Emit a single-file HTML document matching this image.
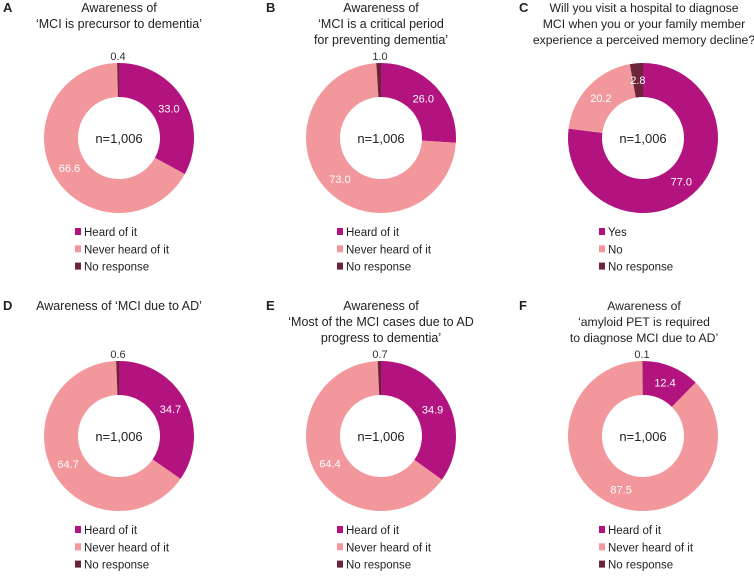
<!DOCTYPE html>
<html><head><meta charset="utf-8">
<style>
body{margin:0;background:#fff;}
svg text{font-family:"Liberation Sans",sans-serif;}
</style></head>
<body>
<svg id="chart" width="754" height="572" xmlns="http://www.w3.org/2000/svg"></svg>
<script>
const panelLetters = ["A","B","C","D","E","F"];
const panelTitles = [
  ["Awareness of","\u2018MCI is precursor to dementia\u2019"],
  ["Awareness of","\u2018MCI is a critical period","for preventing dementia\u2019"],
  ["Will you visit a hospital to diagnose","MCI when you or your family member","experience a perceived memory decline?"],
  ["Awareness of \u2018MCI due to AD\u2019"],
  ["Awareness of","\u2018Most of the MCI cases due to AD","progress to dementia\u2019"],
  ["Awareness of","\u2018amyloid PET is required","to diagnose MCI due to AD\u2019"]
];
const seriesHeard = [33.0, 26.0, 77.0, 34.7, 34.9, 12.4];
const seriesNever = [66.6, 73.0, 20.2, 64.7, 64.4, 87.5];
const seriesNoResp = [0.4, 1.0, 2.8, 0.6, 0.7, 0.1];
const legendLabels = [
  ["Heard of it","Never heard of it","No response"],
  ["Heard of it","Never heard of it","No response"],
  ["Yes","No","No response"],
  ["Heard of it","Never heard of it","No response"],
  ["Heard of it","Never heard of it","No response"],
  ["Heard of it","Never heard of it","No response"]
];
const sampleLabel = "n=1,006";

const colors = ["#b3137f","#f2989c","#6b2438"];
const letterX = [3,266,519];
const NS = "http://www.w3.org/2000/svg";
const svg = document.getElementById("chart");
function mk(tag, attrs, parent){const e=document.createElementNS(NS,tag);for(const k in attrs)e.setAttribute(k,attrs[k]);(parent||svg).appendChild(e);return e;}
const R0=75, R1=41;
function pt(cx,cy,r,frac){const a=frac*2*Math.PI;return [cx+r*Math.sin(a),cy-r*Math.cos(a)];}
function arc(cx,cy,f0,f1){
  const large=(f1-f0)>0.5?1:0;
  const [x0,y0]=pt(cx,cy,R0,f0),[x1,y1]=pt(cx,cy,R0,f1),[x2,y2]=pt(cx,cy,R1,f1),[x3,y3]=pt(cx,cy,R1,f0);
  return `M${x0},${y0}A${R0},${R0} 0 ${large} 1 ${x1},${y1}L${x2},${y2}A${R1},${R1} 0 ${large} 0 ${x3},${y3}Z`;
}
const segNames=["heard","never","no-response"];
for(let i=0;i<6;i++){
  const col=i%3,row=Math.floor(i/3);
  const cx=119+col*262, cy=138+row*298, top=row*298;
  const g=mk("g",{});
  
  
  const L=mk("text",{x:letterX[col],y:top+12,"font-size":13,"font-weight":"bold",fill:"#222"},g);
  L.textContent=panelLetters[i];
  
  
  panelTitles[i].forEach((t,k)=>{
    const tt=mk("text",{x:cx+(col==2?1:0),y:top+12+k*16,"font-size":col==2?12.2:12.5,"text-anchor":"middle",fill:"#222"},g);
    tt.textContent=t;
    
    
  });
  const vals=[seriesHeard[i],seriesNever[i],seriesNoResp[i]];
  const tot=vals.reduce((a,b)=>a+b,0);
  let f=0;
  vals.forEach((v,k)=>{
    const f1=f+v/tot;
    const p=mk("path",{d:arc(cx,cy,f,f1),fill:colors[k]},g);
    
    
    const mid=(f+f1)/2;
    let lx,ly,fill;
    if(v>=2){[lx,ly]=pt(cx,cy,(R0+R1)/2,mid);fill="#fff";}
    else{lx=cx-1;ly=cy-82;fill="#333";}
    const lt=mk("text",{x:lx,y:ly+4,"font-size":11,"text-anchor":"middle",fill:fill},g);
    lt.textContent=v.toFixed(1);
    
    
    f=f1;
  });
  const n=mk("text",{x:cx,y:cy+5,"font-size":13,"text-anchor":"middle",fill:"#222"},g);
  n.textContent=sampleLabel;
  
  
  legendLabels[i].forEach((t,k)=>{
    const y=cy+94+k*17.3;
    const r=mk("rect",{x:cx-44,y:y-4,width:6,height:7,fill:colors[k]},g);
    
    
    const lt=mk("text",{x:cx-35,y:y+4,"font-size":11.5,fill:"#222"},g);
    lt.textContent=t;
    
    
  });
}
</script>
</body></html>
